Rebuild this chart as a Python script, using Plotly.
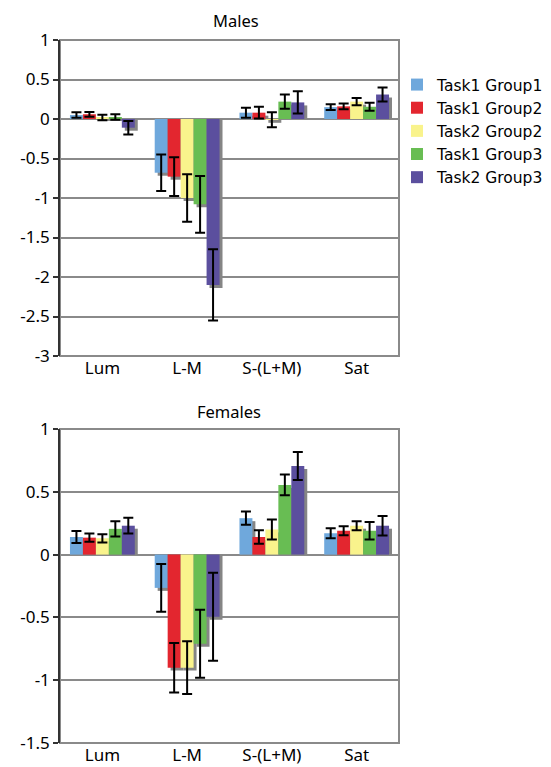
import plotly.graph_objects as go
from plotly.subplots import make_subplots

categories = ["Lum", "L-M", "S-(L+M)", "Sat"]
series_names = ["Task1 Group1", "Task1 Group2", "Task2 Group2", "Task1 Group3", "Task2 Group3"]
colors = ["#6fa8dc", "#e3262f", "#f9f38c", "#68bd53", "#5b4f9e"]

# Males: values per series across categories
males_vals = [
    [0.05, -0.68, 0.08, 0.15],
    [0.06, -0.73, 0.08, 0.16],
    [0.02, -1.00, -0.01, 0.22],
    [0.025, -1.08, 0.22, 0.155],
    [-0.11, -2.10, 0.21, 0.31],
]
males_err = [
    [0.035, 0.23, 0.063, 0.036],
    [0.03, 0.245, 0.075, 0.036],
    [0.035, 0.30, 0.095, 0.045],
    [0.035, 0.36, 0.09, 0.05],
    [0.085, 0.45, 0.14, 0.09],
]

# Females
females_vals = [
    [0.14, -0.265, 0.29, 0.17],
    [0.135, -0.90, 0.14, 0.19],
    [0.13, -0.90, 0.20, 0.23],
    [0.205, -0.71, 0.555, 0.19],
    [0.23, -0.495, 0.705, 0.23],
]
females_err = [
    [0.047, 0.19, 0.053, 0.04],
    [0.032, 0.197, 0.054, 0.036],
    [0.033, 0.21, 0.08, 0.036],
    [0.06, 0.27, 0.082, 0.07],
    [0.063, 0.35, 0.112, 0.078],
]

males_ticks = [1, 0.5, 0, -0.5, -1, -1.5, -2, -2.5, -3]
males_ticktext = ["1", "0.5", "0", "-0.5", "-1", "-1.5", "-2", "-2.5", "-3"]
females_ticks = [1, 0.5, 0, -0.5, -1, -1.5]
females_ticktext = ["1", "0.5", "0", "-0.5", "-1", "-1.5"]

# page body has an 8px margin; size the figure so it fits the window
OFF = 8
W, H = 551 - OFF, 767 - OFF


def px_x(x):
    return (x - OFF) / W


def px_y(y):
    return 1 - (y - OFF) / H


fig = make_subplots(rows=2, cols=1)

xpos = list(range(len(categories)))
bar_w = 0.153
start = -bar_w * len(series_names) / 2
shadow_dx = 0.035


def add_panel(vals, errs, row, unit_px, show_legend):
    d = 3.0 / unit_px
    # shadows
    for i in range(len(series_names)):
        fig.add_trace(go.Bar(
            x=xpos, y=[v - d for v in vals[i]], width=bar_w,
            offset=start + i * bar_w + shadow_dx,
            marker=dict(color="#858585", line=dict(width=0)),
            showlegend=False, hoverinfo="skip"), row=row, col=1)
    for i, name in enumerate(series_names):
        fig.add_trace(go.Bar(
            x=xpos, y=vals[i], width=bar_w, offset=start + i * bar_w,
            name=name, legendgroup=name, showlegend=show_legend,
            marker=dict(color=colors[i], line=dict(width=0)),
            error_y=dict(type="data", array=errs[i], visible=True,
                         color="black", thickness=2, width=5)),
            row=row, col=1)


add_panel(males_vals, males_err, 1, 78.7, True)
add_panel(females_vals, females_err, 2, 126.3, False)

xd = [px_x(60), px_x(399)]
fig.update_layout(
    width=W, height=H, barmode="overlay",
    margin=dict(l=0, r=0, t=0, b=0),
    paper_bgcolor="white", plot_bgcolor="white",
    font=dict(family="Noto Sans", size=14, color="black"),
    legend=dict(x=px_x(397), y=px_y(68), xanchor="left", yanchor="top",
                font=dict(family="DejaVu Sans", size=15.5),
                tracegroupgap=0, bgcolor="rgba(0,0,0,0)"),
    xaxis=dict(domain=xd, anchor="y"),
    yaxis=dict(domain=[px_y(356), px_y(40)], anchor="x"),
    xaxis2=dict(domain=xd, anchor="y2"),
    yaxis2=dict(domain=[px_y(743), px_y(429)], anchor="x2"),
)

for ax in ["xaxis", "xaxis2"]:
    fig.layout[ax].update(range=[-0.5, 3.5], tickvals=xpos, ticktext=categories,
                          showgrid=False, zeroline=False, showline=False,
                          ticks="", tickfont=dict(size=17), automargin=False)
fig.layout.yaxis.update(range=[-3, 1], tickvals=males_ticks, ticktext=males_ticktext)
fig.layout.yaxis2.update(range=[-1.5, 1], tickvals=females_ticks, ticktext=females_ticktext)
for ax in ["yaxis", "yaxis2"]:
    fig.layout[ax].update(showgrid=True, gridcolor="#8a8a8a", gridwidth=1.5,
                          zeroline=True, zerolinecolor="#8a8a8a", zerolinewidth=1.5,
                          showline=True, linecolor="#333333", linewidth=1.5,
                          ticks="outside", ticklen=5, tickcolor="#333333",
                          tickwidth=1.5, tickfont=dict(size=17), automargin=False)

for xr, yr in [("x", "y"), ("x2", "y2")]:
    fig.add_shape(type="rect", xref=f"{xr} domain", yref=f"{yr} domain",
                  x0=0, x1=1, y0=0, y1=1, line=dict(color="#8a8a8a", width=2),
                  layer="below")

fig.add_annotation(text="Males", x=px_x(236), y=px_y(20), xref="paper", yref="paper",
                   xanchor="center", yanchor="middle",
                   showarrow=False, font=dict(size=16.5))
fig.add_annotation(text="Females", x=px_x(229), y=px_y(411), xref="paper", yref="paper",
                   xanchor="center", yanchor="middle",
                   showarrow=False, font=dict(size=16.5))

fig.write_html("out.html")
